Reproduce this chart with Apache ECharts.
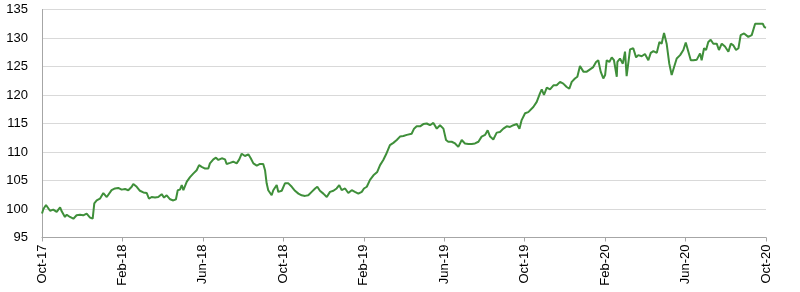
<!DOCTYPE html>
<html><head><meta charset="utf-8">
<script src="https://cdn.jsdelivr.net/npm/echarts@6/dist/echarts.min.js"></script>
<style>html,body{margin:0;padding:0;background:#fff}#c{width:800px;height:292px}</style>
</head><body><div id="c"></div>
<script>
// x positions in months since Oct-17
const monthPos = [0.00,0.07,0.20,0.40,0.56,0.73,0.90,0.98,1.14,1.23,1.39,1.56,1.72,1.89,2.05,2.22,2.39,2.52,2.60,2.72,2.88,3.05,3.22,3.30,3.46,3.63,3.79,3.96,4.13,4.29,4.46,4.54,4.71,4.87,5.04,5.21,5.32,5.45,5.62,5.78,5.95,6.07,6.20,6.37,6.53,6.66,6.75,6.86,6.95,7.03,7.20,7.36,7.52,7.69,7.81,7.94,8.11,8.27,8.35,8.52,8.65,8.77,8.94,9.10,9.18,9.35,9.51,9.68,9.81,9.93,10.09,10.26,10.38,10.51,10.68,10.84,11.00,11.09,11.17,11.25,11.42,11.50,11.67,11.75,11.92,12.08,12.25,12.42,12.58,12.75,12.91,13.08,13.24,13.41,13.58,13.69,13.82,13.99,14.16,14.32,14.49,14.65,14.78,14.90,15.07,15.23,15.40,15.56,15.73,15.90,16.01,16.15,16.31,16.48,16.67,16.81,16.97,17.11,17.30,17.47,17.64,17.80,17.97,18.14,18.38,18.50,18.63,18.80,18.96,19.13,19.29,19.46,19.63,19.79,19.96,20.09,20.20,20.37,20.54,20.70,20.87,21.03,21.20,21.37,21.53,21.70,21.86,22.03,22.16,22.28,22.44,22.61,22.77,22.94,23.11,23.27,23.44,23.61,23.74,23.85,24.02,24.18,24.27,24.43,24.60,24.76,24.85,24.96,25.10,25.26,25.43,25.59,25.76,25.92,26.09,26.22,26.34,26.50,26.62,26.75,26.92,27.09,27.25,27.41,27.55,27.66,27.78,27.91,28.00,28.08,28.21,28.33,28.44,28.58,28.61,28.74,28.88,28.99,29.07,29.24,29.40,29.54,29.65,29.82,29.98,30.15,30.27,30.40,30.57,30.70,30.81,30.93,31.06,31.19,31.31,31.43,31.56,31.73,31.89,32.01,32.14,32.26,32.39,32.56,32.72,32.80,32.92,33.02,33.13,33.25,33.38,33.55,33.66,33.80,33.96,34.13,34.25,34.38,34.51,34.63,34.74,34.91,35.12,35.29,35.46,35.63,35.71,35.84,35.92,36.00];
const indexValues = [99.2,100.0,100.7,99.7,99.9,99.5,100.3,99.6,98.6,99.0,98.6,98.3,98.9,99.0,98.9,99.2,98.5,98.3,101.0,101.5,101.8,102.8,102.1,101.8,103.3,103.6,103.7,103.4,103.5,103.3,103.9,104.4,103.9,103.2,102.9,102.8,101.8,102.1,102.0,102.1,102.6,102.0,102.4,101.7,101.5,101.7,103.3,103.4,104.2,103.3,104.8,105.6,106.2,106.8,107.7,107.4,107.1,107.1,108.0,108.7,109.0,108.6,108.9,108.7,107.9,108.1,108.3,108.0,108.7,109.7,109.3,109.6,108.9,108.0,107.6,107.9,107.9,106.8,104.5,103.3,102.4,103.3,104.2,103.0,103.2,104.5,104.5,103.9,103.2,102.7,102.4,102.3,102.4,103.0,103.6,103.9,103.2,102.7,102.1,103.0,103.2,103.6,104.2,103.3,103.6,102.8,103.3,103.0,102.7,103.0,103.6,103.9,105.1,105.9,106.5,107.7,108.6,109.6,111.2,111.6,112.1,112.7,112.8,113.0,113.2,114.1,114.5,114.5,114.9,115.0,114.7,115.1,114.1,114.7,114.1,112.1,111.8,111.8,111.5,110.9,112.1,111.5,111.4,111.4,111.5,111.8,112.7,113.0,113.8,112.7,112.2,113.4,113.5,114.1,114.5,114.4,114.7,114.9,114.1,115.6,116.8,117.0,116.8,117.9,118.8,120.3,121.0,120.0,121.3,121.0,121.7,121.7,122.3,122.0,121.4,121.1,122.3,122.9,123.2,125.1,124.1,124.1,124.5,124.9,125.8,126.1,124.1,122.9,123.5,126.1,125.8,126.6,126.1,123.2,125.8,126.4,125.5,127.6,123.3,128.0,128.2,126.6,127.0,126.8,127.2,126.1,127.4,127.7,127.4,129.3,129.0,130.9,129.0,125.5,123.5,124.9,126.4,127.0,127.9,129.2,127.6,126.1,126.1,126.2,127.3,126.1,128.2,127.9,129.3,129.7,129.0,129.0,127.9,129.0,128.5,127.6,129.0,128.7,127.9,128.2,130.5,130.8,130.2,130.5,132.5,132.5,132.8,132.5,131.9,131.8];
const tickLabels = ['Oct-17','Feb-18','Jun-18','Oct-18','Feb-19','Jun-19','Oct-19','Feb-20','Jun-20','Oct-20'];

const chart = echarts.init(document.getElementById('c'), null, {renderer:'canvas'});
chart.setOption({
  animation:false,
  grid:{left:42,right:34,top:9.5,bottom:54.5,containLabel:false},
  xAxis:{type:'value',min:0,max:36,interval:4,
    axisLine:{show:true,onZero:false,lineStyle:{color:'#a6a6a6',width:1}},
    axisTick:{show:true,length:4,lineStyle:{color:'#a6a6a6'}},
    splitLine:{show:false},
    axisLabel:{rotate:90,margin:7,fontFamily:'Liberation Sans',fontSize:13,color:'#000',
      formatter:function(v){return tickLabels[Math.round(v/4)]||'';}}
  },
  yAxis:{type:'value',min:95,max:135,interval:5,
    axisLine:{show:true,lineStyle:{color:'#a6a6a6',width:1}},
    axisTick:{show:false},
    splitLine:{show:true,lineStyle:{color:'#d9d9d9',width:1}},
    axisLabel:{margin:14,fontFamily:'Liberation Sans',fontSize:13,color:'#000'}
  },
  series:[{type:'line',data:monthPos.map((m,i)=>[m,indexValues[i]]),showSymbol:false,
    lineStyle:{color:'#3f8f3a',width:2},itemStyle:{color:'#3f8f3a'}}]
});
</script></body></html>
